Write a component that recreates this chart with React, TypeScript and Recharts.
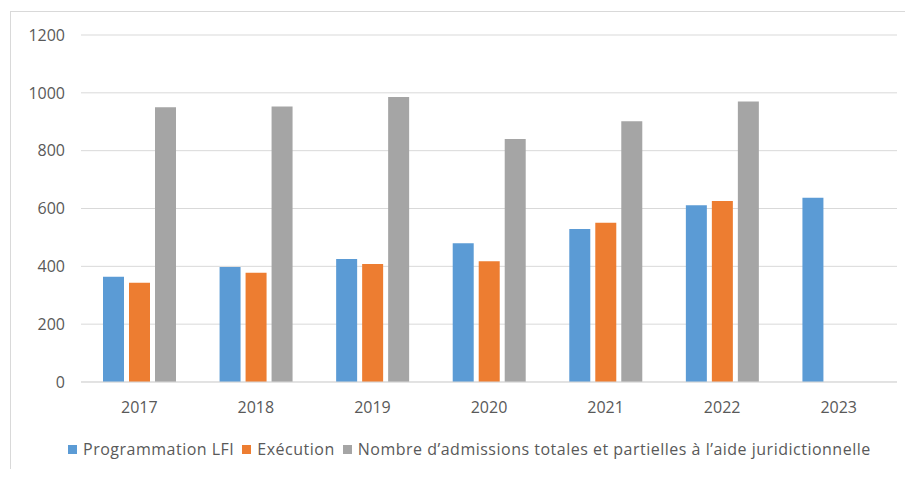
import { Bar, BarChart, CartesianGrid, XAxis, YAxis } from 'recharts';

const YEARS = ['2017', '2018', '2019', '2020', '2021', '2022', '2023'];
const PROGRAMMATION = [364, 398, 425, 480, 529, 611, 637];
const EXECUTION = [343, 378, 408, 418, 551, 626, null];
const ADMISSIONS = [950, 953, 986, 840, 902, 970, null];
const Y_TICKS = [0, 200, 400, 600, 800, 1000, 1200];

const SERIES = [
  { key: 'programmation', name: 'Programmation LFI', color: '#5b9bd5' },
  { key: 'execution', name: 'Exécution', color: '#ed7d31' },
  { key: 'admissions', name: 'Nombre d\u2019admissions totales et partielles à l\u2019aide juridictionnelle', color: '#a5a5a5' },
];

const data = YEARS.map((year, i) => ({
  year,
  programmation: PROGRAMMATION[i],
  execution: EXECUTION[i],
  admissions: ADMISSIONS[i],
}));

const FONT = '"Open Sans", "Noto Sans", sans-serif';
const TEXT_COLOR = '#595959';

export default function App() {
  return (
    <div
      style={{
        position: 'relative',
        margin: -8,
        width: 913,
        height: 477,
        overflow: 'hidden',
        background: '#fff',
        fontFamily: FONT,
      }}
    >
      {/* chart frame */}
      <div
        style={{
          position: 'absolute',
          left: 10,
          top: 11,
          width: 920,
          height: 464,
          border: '1px solid #d9d9d9',
        }}
      />
      <BarChart
        width={913}
        height={477}
        data={data}
        margin={{ top: 35, right: 16, left: 0, bottom: 65 }}
        barSize={21}
        barGap={5}
        style={{ position: 'absolute', left: 0, top: 0 }}
      >
        <CartesianGrid vertical={false} stroke="#d9d9d9" strokeWidth={1} />
        <XAxis
          dataKey="year"
          height={30}
          axisLine={{ stroke: '#d9d9d9' }}
          tickLine={false}
          tickSize={0}
          tickMargin={20}
          tick={{ fill: TEXT_COLOR, fontSize: 16, fontFamily: FONT }}
        />
        <YAxis
          width={81}
          domain={[0, 1200]}
          ticks={Y_TICKS}
          axisLine={false}
          tickLine={false}
          tickSize={0}
          tickMargin={16}
          tick={{ fill: TEXT_COLOR, fontSize: 16, fontFamily: FONT }}
        />
        {SERIES.map((s) => (
          <Bar key={s.key} dataKey={s.key} name={s.name} fill={s.color} isAnimationActive={false} />
        ))}
      </BarChart>
      <div
        style={{
          position: 'absolute',
          left: 68,
          top: 438,
          display: 'flex',
          alignItems: 'center',
          gap: 8,
          fontSize: 16,
          letterSpacing: 0.5,
          color: TEXT_COLOR,
          whiteSpace: 'nowrap',
        }}
      >
        {SERIES.map((s) => (
          <span key={s.key} style={{ display: 'flex', alignItems: 'center' }}>
            <span style={{ width: 9, height: 9, background: s.color, marginRight: 6 }} />
            {s.name}
          </span>
        ))}
      </div>
    </div>
  );
}
